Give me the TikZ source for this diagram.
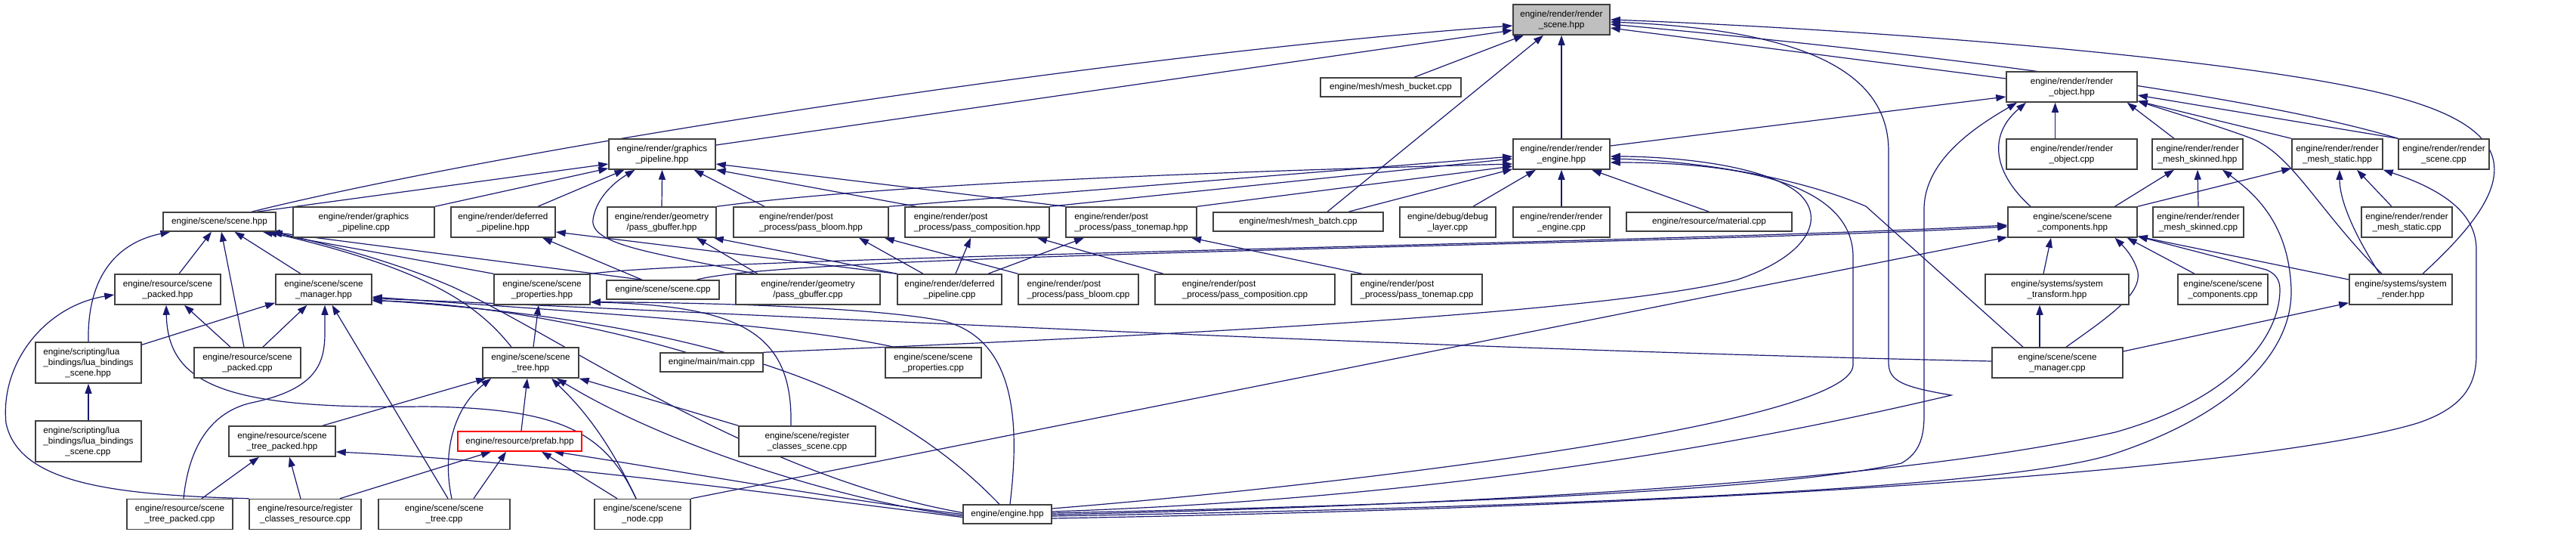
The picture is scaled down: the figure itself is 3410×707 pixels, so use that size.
\documentclass[tikz,border=0pt]{standalone}
\usepackage{fontspec}
\setmainfont{Liberation Sans}
\usetikzlibrary{arrows.meta}
\definecolor{edgeblue}{HTML}{191970}
\definecolor{boxline}{HTML}{404040}
\definecolor{rootfill}{HTML}{BFBFBF}
\pgfdeclarelayer{edges}
\pgfsetlayers{edges,main}

\begin{document}
\begin{tikzpicture}[x=1pt, y=-1pt, line cap=round,
  every node/.style={font=\fontsize{11.7}{14}\selectfont},
  box/.style={draw=boxline, line width=1.5pt, fill=white, inner sep=0pt, align=center},
  box1/.style={box, minimum height=25pt},
  box2/.style={box, minimum height=40pt},
  box3/.style={box, minimum height=54pt},
  edge/.style={draw=edgeblue, line width=1.2pt, -{Triangle[length=13pt,width=9pt]}}]

\useasboundingbox (0,0) rectangle (3410,707);

% ---------- rank 0 / 1 ----------
\node[box2, fill=rootfill, minimum width=128pt] (rscene) at (2067,26) {engine/render/render\\\_scene.hpp};
\node[box1, minimum width=186pt] (mbucket) at (1841,115.5) {engine/mesh/mesh\_bucket.cpp};
\node[box2, minimum width=173pt] (robj) at (2742.5,115) {engine/render/render\\\_object.hpp};

% ---------- rank 2 ----------
\node[box2, minimum width=141pt] (gpipe) at (876.5,204) {engine/render/graphics\\\_pipeline.hpp};
\node[box2, minimum width=128pt] (rengine) at (2067,204) {engine/render/render\\\_engine.hpp};
\node[box2, minimum width=173pt] (robjc) at (2742.5,204) {engine/render/render\\\_object.cpp};
\node[box2, minimum width=120pt] (mskin) at (2909,204) {engine/render/render\\\_mesh\_skinned.hpp};
\node[box2, minimum width=120pt] (mstat) at (3094,204) {engine/render/render\\\_mesh\_static.hpp};
\node[box2, minimum width=120pt] (rscenec) at (3235,204) {engine/render/render\\\_scene.cpp};

% ---------- rank 3 ----------
\node[box1, minimum width=149pt] (scene) at (290.5,293.5) {engine/scene/scene.hpp};
\node[box2, minimum width=187pt] (gpipec) at (481.5,294) {engine/render/graphics\\\_pipeline.cpp};
\node[box2, minimum width=138pt] (defpipe) at (666,294) {engine/render/deferred\\\_pipeline.hpp};
\node[box2, minimum width=144pt] (gbuf) at (876,294) {engine/render/geometry\\/pass\_gbuffer.hpp};
\node[box2, minimum width=205pt, align=left] (bloom) at (1073.5,294) {engine/render/post\\\_process/pass\_bloom.hpp};
\node[box2, minimum width=191pt, align=left] (comp) at (1293.5,294) {engine/render/post\\\_process/pass\_composition.hpp};
\node[box2, minimum width=173pt, align=left] (tonemap) at (1497.5,294) {engine/render/post\\\_process/pass\_tonemap.hpp};
\node[box1, minimum width=225pt] (mbatch) at (1718.5,293.5) {engine/mesh/mesh\_batch.cpp};
\node[box2, minimum width=127pt] (dbglayer) at (1916.5,294) {engine/debug/debug\\\_layer.cpp};
\node[box2, minimum width=128pt] (renginec) at (2067,294) {engine/render/render\\\_engine.cpp};
\node[box1, minimum width=219pt] (material) at (2262.5,293.5) {engine/resource/material.cpp};
\node[box2, minimum width=171pt] (scomp) at (2743.5,294) {engine/scene/scene\\\_components.hpp};
\node[box2, minimum width=120pt] (mskinc) at (2910,294) {engine/render/render\\\_mesh\_skinned.cpp};
\node[box2, minimum width=120pt] (mstatc) at (3186,294) {engine/render/render\\\_mesh\_static.cpp};

% ---------- rank 4 ----------
\node[box2, minimum width=140pt] (spacked) at (222,383) {engine/resource/scene\\\_packed.hpp};
\node[box2, minimum width=127pt] (smgr) at (428.5,383) {engine/scene/scene\\\_manager.hpp};
\node[box2, minimum width=127pt] (sprops) at (717.5,383) {engine/scene/scene\\\_properties.hpp};
\node[box1, minimum width=149pt] (scenec) at (877.5,383.5) {engine/scene/scene.cpp};
\node[box2, minimum width=191pt] (gbufc) at (1069.5,383) {engine/render/geometry\\/pass\_gbuffer.cpp};
\node[box2, minimum width=138pt] (defpipec) at (1257,383) {engine/render/deferred\\\_pipeline.cpp};
\node[box2, minimum width=159pt, align=left] (bloomc) at (1427.5,383) {engine/render/post\\\_process/pass\_bloom.cpp};
\node[box2, minimum width=238pt, align=left] (compc) at (1648,383) {engine/render/post\\\_process/pass\_composition.cpp};
\node[box2, minimum width=173pt, align=left] (tonemapc) at (1875.5,383) {engine/render/post\\\_process/pass\_tonemap.cpp};
\node[box2, minimum width=190pt] (systrans) at (2723,383) {engine/systems/system\\\_transform.hpp};
\node[box2, minimum width=119pt] (scompc) at (2942.5,383) {engine/scene/scene\\\_components.cpp};
\node[box2, minimum width=136pt] (sysrend) at (3178,383) {engine/systems/system\\\_render.hpp};

% ---------- rank 5 ----------
\node[box3, minimum width=140pt, align=left] (luah) at (117,480) {engine/scripting/lua\\\_bindings/lua\_bindings\\\hspace*{29pt}\_scene.hpp};
\node[box2, minimum width=141pt] (spackedc) at (327.5,480) {engine/resource/scene\\\_packed.cpp};
\node[box2, minimum width=127pt] (stree) at (702.5,480) {engine/scene/scene\\\_tree.hpp};
\node[box1, minimum width=136pt] (mainc) at (942,479.5) {engine/main/main.cpp};
\node[box2, minimum width=127pt] (spropsc) at (1235.5,480) {engine/scene/scene\\\_properties.cpp};
\node[box2, minimum width=173pt] (smgrc) at (2723.5,480) {engine/scene/scene\\\_manager.cpp};

% ---------- rank 6 ----------
\node[box3, minimum width=140pt, align=left] (luac) at (117,584) {engine/scripting/lua\\\_bindings/lua\_bindings\\\hspace*{29pt}\_scene.cpp};
\node[box2, minimum width=141pt] (stpacked) at (373.5,584) {engine/resource/scene\\\_tree\_packed.hpp};
\node[box, draw=red, minimum width=164pt, minimum height=26pt] (prefab) at (688,584) {engine/resource/prefab.hpp};
\node[box2, minimum width=181pt] (regscene) at (1068.5,584) {engine/scene/register\\\_classes\_scene.cpp};

% ---------- rank 7 ----------
\node[box2, minimum width=140pt] (stpackedc) at (238,680.5) {engine/resource/scene\\\_tree\_packed.cpp};
\node[box2, minimum width=148pt] (regres) at (404,680.5) {engine/resource/register\\\_classes\_resource.cpp};
\node[box2, minimum width=174pt] (streec) at (588,680.5) {engine/scene/scene\\\_tree.cpp};
\node[box2, minimum width=127pt] (snodec) at (850.5,680.5) {engine/scene/scene\\\_node.cpp};
\node[box1, minimum width=117pt] (engine) at (1333.5,680.5) {engine/engine.hpp};

\begin{pgfonlayer}{edges}
% ---------- into render_scene.hpp ----------
\draw[edge] ([yshift=12pt]gpipe.east) -- ([yshift=-14pt]rscene.west);
\draw[edge] ([xshift=42.5pt]scene.north) .. controls (700,190) and (1500,70) .. ([yshift=-8pt]rscene.west);
\draw[edge] ([xshift=31pt]mbucket.north) -- ([xshift=-50pt]rscene.south);
\draw[edge] ([xshift=38.5pt]mbatch.north) -- ([xshift=-24pt]rscene.south);
\draw[edge] (rengine.north) -- (rscene.south);
\draw[edge] ([yshift=11pt]robj.west) -- ([yshift=-11pt]rscene.east);
\draw[edge] (rscenec.north west) .. controls (3000,130) and (2600,75) .. ([yshift=-6pt]rscene.east);
\draw[edge] ([xshift=29pt]sysrend.north) .. controls (3330,250) and (3350,175) .. (3167,127) .. controls (2984,79) and (2500,40) .. (rscene.east);
\draw[edge] ([yshift=3.5pt]engine.east) .. controls (1900,660) and (2300,590) .. (2583,523) .. controls (2520,512) and (2500,505) .. (2500,480) -- (2500,200) .. controls (2500,100) and (2400,40) .. ([yshift=-3pt]rscene.east);

% ---------- into render_object.hpp ----------
\draw[edge] ([yshift=11pt]rengine.east) -- ([yshift=-13pt]robj.west);
\draw[edge] ([yshift=1.5pt]engine.east) .. controls (1900,668) and (2350,650) .. (2517,613) .. controls (2540,600) and (2547,580) .. (2547,550) -- (2547,277) .. controls (2547,210) and (2620,165) .. ([xshift=-72.5pt]robj.south);
\draw[edge] ([xshift=-55.5pt]scomp.north) .. controls (2640,230) and (2630,180) .. ([xshift=-60.5pt]robj.south);
\draw[edge] ([xshift=-22pt]robjc.north) -- ([xshift=-22pt]robj.south);
\draw[edge] ([xshift=-31pt]mskin.north) -- ([xshift=-14pt]robj.south east);
\draw[edge] (rscenec.north west) -- ([yshift=-11pt]robj.east);
\draw[edge] (mstat.north west) -- ([yshift=2pt]robj.south east);
\draw[edge] ([xshift=-25pt]sysrend.north) .. controls (3070,280) and (3035,205) .. (2980,183) .. controls (2940,168) and (2880,150) .. ([yshift=2pt]robj.south east);

% ---------- into render_mesh_skinned.hpp / render_mesh_static.hpp ----------
\draw[edge] ([xshift=56pt]scomp.north) -- ([xshift=-31pt]mskin.south);
\draw[edge] (mskinc.north) -- (mskin.south);
\draw[edge] ([yshift=-2.5pt]engine.east) .. controls (2000,672) and (2650,650) .. (2800,600) .. controls (2950,550) and (3035,470) .. (3033,383) .. controls (3030,300) and (2990,260) .. ([xshift=33pt]mskin.south);
\draw[edge] (scomp.north east) -- ([yshift=2pt]mstat.south west);
\draw[edge] ([xshift=-28pt]sysrend.north) .. controls (3110,300) and (3097,260) .. ([xshift=3pt]mstat.south);
\draw[edge] ([xshift=-20pt]mstatc.north) -- ([xshift=26pt]mstat.south);
\draw[edge] ([yshift=-5.5pt]engine.east) .. controls (2300,670) and (3000,620) .. (3200,560) .. controls (3260,540) and (3278,510) .. (3278,470) -- (3278,330) .. controls (3278,280) and (3230,250) .. (mstat.south east);

% ---------- into render_engine.hpp ----------
\draw[edge] (gbuf.north east) .. controls (1200,240) and (1700,225) .. ([yshift=-13pt]rengine.west);
\draw[edge] (bloom.north east) -- ([yshift=-3pt]rengine.west);
\draw[edge] (comp.north east) -- ([yshift=-6pt]rengine.west);
\draw[edge] (tonemap.north east) -- ([yshift=-16pt]rengine.west);
\draw[edge] ([xshift=66.5pt]mbatch.north) -- ([yshift=1pt]rengine.south west);
\draw[edge] ([xshift=33.5pt]dbglayer.north) -- ([xshift=-34pt]rengine.south);
\draw[edge] (renginec.north) -- (rengine.south);
\draw[edge] (material.north) -- ([xshift=40pt]rengine.south);
\draw[edge] (mainc.north east) .. controls (1400,450) and (2100,420) .. (2300,370) .. controls (2390,340) and (2420,290) .. (2380,255) .. controls (2330,215) and (2200,207) .. ([yshift=-3pt]rengine.east);
\draw[edge] ([xshift=-45.5pt]smgrc.north) -- (2470,273) .. controls (2380,235) and (2250,213) .. ([yshift=-6pt]rengine.east);
\draw[edge] ([yshift=7.5pt]engine.east) .. controls (1800,640) and (2453,560) .. (2453,483) -- (2453,340) .. controls (2453,260) and (2350,215) .. ([yshift=-11pt]rengine.east);

% ---------- into graphics_pipeline.hpp ----------
\draw[edge] ([xshift=49.5pt]scene.north) -- ([yshift=-13pt]gpipe.west);
\draw[edge] (gpipec.north east) -- ([yshift=2pt]gpipe.south west);
\draw[edge] ([xshift=46pt]defpipe.north) -- ([xshift=-50pt]gpipe.south);
\draw[edge] ([xshift=-70pt]gbufc.north) .. controls (870,335) and (780,325) .. (785,290) .. controls (790,260) and (815,240) .. ([xshift=-36pt]gpipe.south);
\draw[edge] (gbuf.north) -- (gpipe.south);
\draw[edge] ([xshift=-61.5pt]bloom.north) -- ([xshift=42pt]gpipe.south);
\draw[edge] ([xshift=-80.5pt]comp.north) -- (gpipe.south east);
\draw[edge] (tonemap.north west) -- ([yshift=-13pt]gpipe.east);

% ---------- into scene.hpp ----------
\draw[edge] (luah.north) .. controls (115,360) and (160,320) .. ([xshift=-65pt]scene.south);
\draw[edge] ([xshift=15pt]spacked.north) -- ([xshift=-10.5pt]scene.south);
\draw[edge] ([xshift=-4.5pt]spackedc.north) -- ([xshift=2.5pt]scene.south);
\draw[edge] ([xshift=-30.5pt]smgr.north) -- ([xshift=20pt]scene.south);
\draw[edge] (sprops.north west) -- ([xshift=-18pt]scene.south east);
\draw[edge] ([xshift=-25.5pt]stree.north) .. controls (630,400) and (560,355) .. ([xshift=-12pt]scene.south east);
\draw[edge] ([xshift=-27.5pt]scenec.north) -- ([xshift=-8pt]scene.south east);
\draw[edge] ([yshift=2pt]engine.west) .. controls (1000,630) and (750,450) .. (600,380) .. controls (520,345) and (420,320) .. ([xshift=-5pt]scene.south east);

% ---------- render passes ----------
\draw[edge] ([xshift=-27.5pt]scenec.north) -- ([xshift=52pt]defpipe.south);
\draw[edge] (defpipec.north west) -- ([yshift=-13pt]defpipe.east);
\draw[edge] ([xshift=-66.5pt]gbufc.north) -- ([xshift=46pt]gbuf.south);
\draw[edge] (defpipec.north west) -- ([xshift=-4pt]gbuf.south east);
\draw[edge] ([xshift=-35pt]defpipec.north) -- ([xshift=63.5pt]bloom.south);
\draw[edge] (bloomc.north west) -- ([xshift=-6pt]bloom.south east);
\draw[edge] ([xshift=8pt]defpipec.north) -- ([xshift=-8.5pt]comp.south);
\draw[edge] ([xshift=-108pt]compc.north) -- ([xshift=79.5pt]comp.south);
\draw[edge] ([xshift=51pt]defpipec.north) -- ([xshift=-62.5pt]tonemap.south);
\draw[edge] ([xshift=-72.5pt]tonemapc.north) -- ([xshift=79.5pt]tonemap.south);

% ---------- into scene_components.hpp ----------
\draw[edge] ([xshift=44.5pt]scenec.north) .. controls (1050,335) and (2200,325) .. ([yshift=-6pt]scomp.west);
\draw[edge] (sprops.north east) .. controls (950,340) and (2200,322) .. ([yshift=-4pt]scomp.west);
\draw[edge] (snodec.north east) -- ([yshift=1pt]scomp.south west);
\draw[edge] ([xshift=-18pt]systrans.north) -- ([xshift=-28.5pt]scomp.south);
\draw[edge] ([xshift=11.5pt]smgrc.north) .. controls (2790,420) and (2835,390) .. (2830,360) .. controls (2825,340) and (2810,325) .. ([xshift=56pt]scomp.south);
\draw[edge] ([xshift=-37.5pt]scompc.north) -- ([xshift=-14pt]scomp.south east);
\draw[edge] ([yshift=13pt]sysrend.west) -- ([yshift=2pt]scomp.south east);
\draw[edge] ([yshift=-0.5pt]engine.east) .. controls (1900,670) and (2500,640) .. (2800,572) .. controls (2950,530) and (3018,450) .. (3018,383) .. controls (3018,370) and (3012,362) .. (3000,357) -- ([yshift=2pt]scomp.south east);

% ---------- systems ----------
\draw[edge] ([xshift=-23.5pt]smgrc.north) -- ([xshift=-23pt]systrans.south);
\draw[edge] ([yshift=15pt]smgrc.east) -- ([yshift=3pt]sysrend.south west);

% ---------- into scene_manager.hpp ----------
\draw[edge] ([yshift=-4pt]luah.north east) -- ([yshift=3pt]smgr.south west);
\draw[edge] ([xshift=20.5pt]spackedc.north) -- ([xshift=-22pt]smgr.south);
\draw[edge] ([xshift=5pt]stpackedc.north) .. controls (250,590) and (280,545) .. (333,533) .. controls (420,515) and (430,480) .. (430,440) -- ([xshift=1.5pt]smgr.south);
\draw[edge] ([xshift=5pt]streec.north) -- ([xshift=11pt]smgr.south);
\draw[edge] ([yshift=2pt]smgrc.west) .. controls (1800,460) and (900,410) .. ([yshift=-12pt]smgr.east);
\draw[edge] ([xshift=-34pt]mainc.north) .. controls (750,420) and (600,400) .. ([yshift=-15pt]smgr.east);
\draw[edge] ([xshift=-52pt]spropsc.north) .. controls (1050,430) and (800,415) .. ([yshift=-10pt]smgr.east);
\draw[edge] ([xshift=-10.5pt]engine.north) .. controls (1200,540) and (1000,430) .. ([yshift=-14pt]smgr.east);

% ---------- resources ----------
\draw[edge] ([xshift=-22.5pt]spackedc.north) -- ([xshift=22pt]spacked.south);
\draw[edge] (regres.north west) .. controls (150,655) and (25,640) .. (8,560) .. controls (0,480) and (60,405) .. ([yshift=-7pt]spacked.west);
\draw[edge] ([xshift=-8.5pt]snodec.north) .. controls (800,570) and (740,540) .. (560,538) .. controls (300,542) and (222,510) .. ([xshift=-2pt]spacked.south);
\draw[edge] (luac.north) -- (luah.south);
\draw[edge] ([xshift=29pt]stpackedc.north) -- ([xshift=-30.5pt]stpacked.south);
\draw[edge] ([xshift=-6pt]regres.north) -- ([xshift=9.5pt]stpacked.south);
\draw[edge] ([yshift=-4pt]engine.west) .. controls (1000,650) and (700,610) .. ([yshift=-14pt]stpacked.east);

% ---------- into scene_tree.hpp / scene_properties.hpp ----------
\draw[edge] ([xshift=53.5pt]stpacked.north) -- ([xshift=5pt]stree.south west);
\draw[edge] ([xshift=10pt]streec.north) .. controls (585,600) and (600,540) .. ([xshift=12pt]stree.south west);
\draw[edge] ([xshift=2pt]prefab.north) -- ([xshift=-4.5pt]stree.south);
\draw[edge] ([xshift=-8.5pt]snodec.north) .. controls (800,570) and (760,530) .. ([xshift=27.5pt]stree.south);
\draw[edge] ([yshift=-2pt]engine.west) .. controls (1150,670) and (900,600) .. ([xshift=34.5pt]stree.south);
\draw[edge] (regscene.north west) -- (stree.south east);
\draw[edge] ([xshift=3.5pt]stree.north) -- ([xshift=-4.5pt]sprops.south);
\draw[edge] ([xshift=-21.5pt]regscene.north) .. controls (1050,440) and (980,405) .. ([yshift=4pt]sprops.south east);
\draw[edge] ([xshift=3.5pt]engine.north) .. controls (1350,560) and (1345,450) .. (1250,425) .. controls (1150,405) and (900,400) .. ([yshift=4pt]sprops.south east);

% ---------- into prefab.hpp ----------
\draw[edge] ([xshift=46pt]regres.north) -- ([xshift=-38pt]prefab.south);
\draw[edge] ([xshift=39pt]streec.north) -- ([xshift=-18pt]prefab.south);
\draw[edge] ([xshift=-33.5pt]snodec.north) -- ([xshift=29pt]prefab.south);
\draw[edge] (engine.west) .. controls (1100,660) and (850,615) .. ([xshift=45pt]prefab.south);
\end{pgfonlayer}

\end{tikzpicture}
\end{document}
